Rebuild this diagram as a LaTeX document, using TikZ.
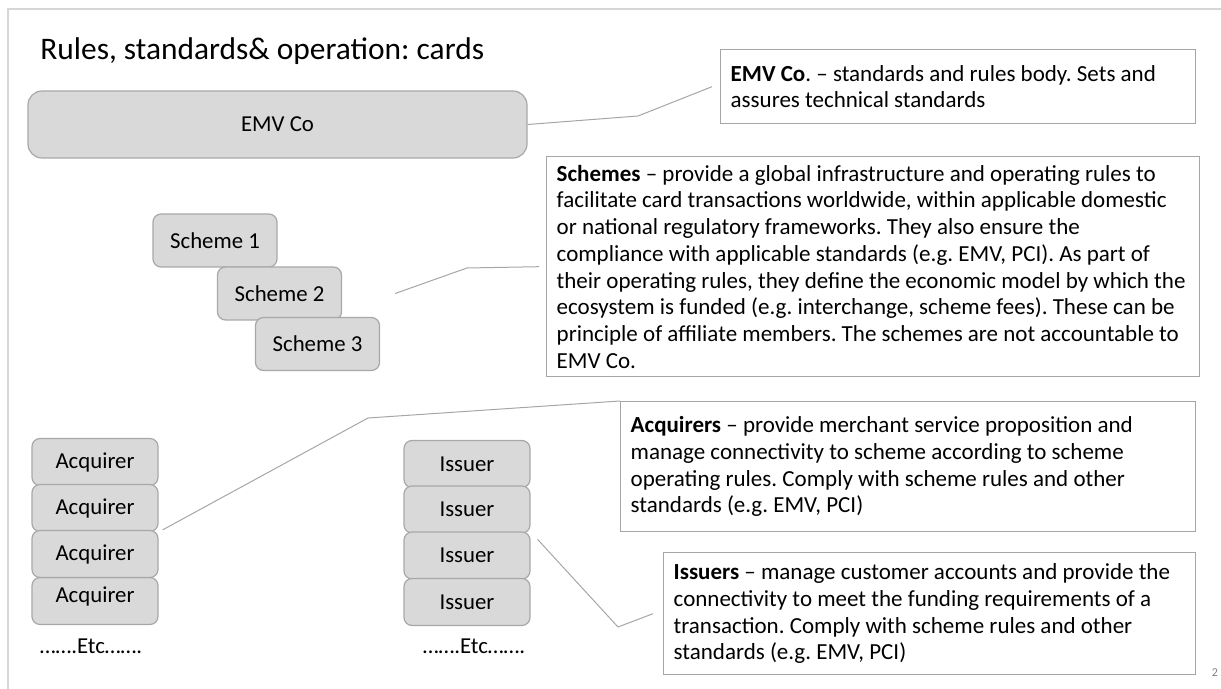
\documentclass[tikz,border=0pt]{standalone}
\usepackage{fontspec}
\setmainfont{Carlito}
\usepackage{tikz}
\usetikzlibrary{calc,positioning}
\definecolor{boxfill}{HTML}{D9D9D9}
\definecolor{boxline}{HTML}{A8A8A8}
\definecolor{noteline}{HTML}{A6A6A6}
\definecolor{frameline}{HTML}{D6D6D6}
\AtBeginDocument{\frenchspacing}

\begin{document}
\begin{tikzpicture}[x=0.5pt, y=-0.5pt, lnk/.style={draw=noteline, line width=0.5pt},
  note/.style={draw=noteline, fill=white, line width=0.7pt, anchor=north west, align=flush left, inner xsep=5pt, inner ysep=2.5pt, font=\fontsize{11.5}{13.35}\selectfont}]
\tikzstyle{box}=[draw=boxline, fill=boxfill, line width=0.6pt, rounded corners=4pt, inner sep=0pt, font=\fontsize{11.4}{14}\selectfont]
\useasboundingbox (0,0) rectangle (1221,689);
\draw[frameline, line width=0.7pt] (8,689) -- (8,9) -- (1221,9);
\node[anchor=base west, inner sep=0pt, font=\fontsize{15.7}{18}\selectfont] (title) at (40,60) {Rules, standards\& operation: cards};
% boxes
\node[box, minimum width=249.5pt, minimum height=33.5pt, rounded corners=7pt] (emv) at (277.5,124.5) {EMV Co};
\node[box, minimum width=62pt, minimum height=26.5pt] (sch1) at (215,240.5) {Scheme 1};
\node[box, minimum width=62pt, minimum height=26.5pt] (sch2) at (279.5,293.5) {Scheme 2};
\node[box, minimum width=62pt, minimum height=26.5pt] (sch3) at (317.5,344) {Scheme 3};
\node[box, minimum width=63pt, minimum height=23.5pt] (acq4) at (95,601) {\raisebox{6pt}{Acquirer}};
\foreach \i/\y in {1/462,2/508,3/554}{\node[box, minimum width=63pt, minimum height=23.5pt] (acq\i) at (95,\y) {Acquirer};}
\foreach \i/\y in {1/464,2/509.5,3/555.5,4/602}{\node[box, minimum width=63pt, minimum height=23.5pt] (iss\i) at (467,\y) {Issuer};}
\node[anchor=base, font=\fontsize{11.4}{14}\selectfont] (acqetc) at (91,653) {…….Etc…….};
\node[anchor=base, font=\fontsize{11.4}{14}\selectfont] (issetc) at (474,653) {…….Etc…….};
% notes
\node[note, text width=227.5pt, minimum height=37pt] (emvnote) at (720,49) {\textbf{EMV Co}. – standards and rules body. Sets and\\assures technical standards};
\node[note, text width=316.5pt, minimum height=110pt] (schnote) at (546,156) {\textbf{Schemes} – provide a global infrastructure and operating rules to\\facilitate card transactions worldwide, within applicable domestic\\or national regulatory frameworks. They also ensure the\\compliance with applicable standards (e.g. EMV, PCI). As part of\\their operating rules, they define the economic model by which the\\ecosystem is funded (e.g. interchange, scheme fees). These can be\\principle of affiliate members. The schemes are not accountable to\\EMV Co.};
\node[note, text width=277.5pt, minimum height=65pt] (acqnote) at (620,401) {\textbf{Acquirers} – provide merchant service proposition and\\manage connectivity to scheme according to scheme\\operating rules. Comply with scheme rules and other\\standards (e.g. EMV, PCI)};
\node[note, text width=256pt, minimum height=61pt] (issnote) at (663,552) {\textbf{Issuers} – manage customer accounts and provide the\\connectivity to meet the funding requirements of a\\transaction. Comply with scheme rules and other\\standards (e.g. EMV, PCI)};
% callout lines
\draw[lnk] (emv.east) -- (638,116) -- ([xshift=-4pt]emvnote.west);
\draw[lnk] ([xshift=26.5pt]sch2.east) -- (467,268) -- ([xshift=-3.5pt]schnote.west);
\draw[lnk] ([xshift=2pt]acq3.north east) -- (368,418) -- (acqnote.north west);
\draw[lnk] ([shift={(3.5pt,-4pt)}]iss3.north east) -- (618,627) -- ([xshift=-5pt]issnote.west);
\node[font=\fontsize{6}{7}\selectfont, text=gray] (pgno) at (1215,673) {2};
\end{tikzpicture}
\end{document}
